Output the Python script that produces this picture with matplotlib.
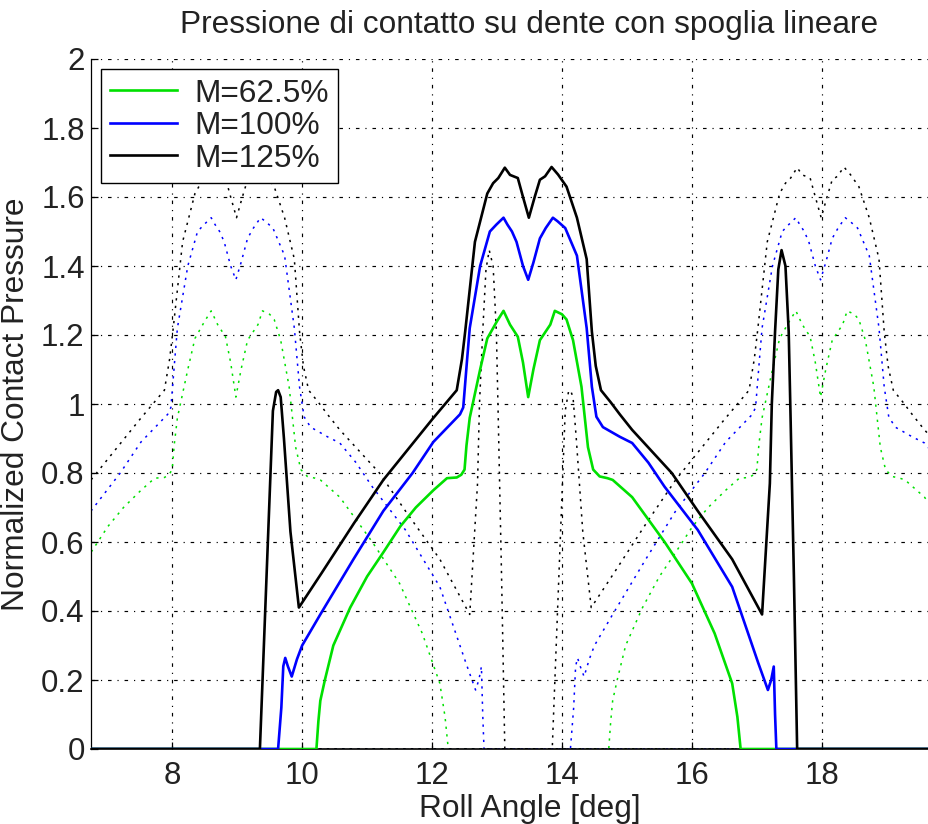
import matplotlib.pyplot as plt

plt.rcParams['font.family'] = ['Liberation Sans', 'DejaVu Sans']

# Roll angle [deg] / normalized contact pressure on the reference tooth
roll_625 = [2.0, 10.22, 10.25, 10.28, 10.35, 10.48, 10.74, 11.0, 11.25, 11.51, 11.75,
            12.02, 12.23, 12.38, 12.45, 12.5, 12.53, 12.58, 12.74, 12.85, 13.0, 13.1,
            13.2, 13.32, 13.4, 13.48, 13.56, 13.66, 13.82, 13.89, 14.0, 14.07, 14.17,
            14.3, 14.4, 14.48, 14.58, 14.7, 14.78, 15.08, 15.58, 16.0, 16.35, 16.62,
            16.7, 16.75, 25.0]
p_625 = [0.0, 0.0, 0.08, 0.14, 0.2, 0.3, 0.41, 0.5, 0.57, 0.645, 0.7,
         0.75, 0.785, 0.787, 0.795, 0.81, 0.88, 0.96, 1.1, 1.19, 1.24, 1.27,
         1.23, 1.195, 1.12, 1.02, 1.1, 1.185, 1.23, 1.27, 1.26, 1.245, 1.185,
         1.05, 0.875, 0.81, 0.79, 0.785, 0.78, 0.73, 0.6, 0.48, 0.335, 0.19,
         0.093, 0.0, 0.0]

roll_100 = [2.0, 9.63, 9.68, 9.71, 9.74, 9.78, 9.84, 9.92, 10.0, 10.28, 10.79, 11.25,
            11.7, 12.02, 12.43, 12.48, 12.54, 12.58, 12.74, 12.89, 12.99, 13.1, 13.16,
            13.23, 13.3, 13.4, 13.48, 13.56, 13.66, 13.75, 13.86, 13.93, 14.05, 14.23,
            14.38, 14.46, 14.53, 14.63, 14.89, 15.08, 15.33, 15.58, 16.09, 16.62, 17.02,
            17.17, 17.22, 17.26, 17.28, 17.3, 25.0]
p_100 = [0.0, 0.0, 0.12, 0.24, 0.264, 0.24, 0.21, 0.26, 0.3, 0.39, 0.55, 0.69,
         0.8, 0.89, 0.97, 0.99, 1.13, 1.22, 1.4, 1.5, 1.52, 1.54, 1.52,
         1.5, 1.47, 1.4, 1.36, 1.41, 1.48, 1.51, 1.54, 1.53, 1.51, 1.43,
         1.22, 1.05, 0.963, 0.933, 0.905, 0.887, 0.83, 0.76, 0.635, 0.47, 0.25,
         0.171, 0.2, 0.239, 0.1, 0.0, 0.0]

roll_125 = [2.0, 9.35, 9.55, 9.6, 9.63, 9.67, 9.72, 9.82, 9.95, 10.3, 10.8, 11.25,
            11.7, 12.0, 12.38, 12.46, 12.51, 12.66, 12.85, 12.94, 13.02, 13.12, 13.2,
            13.32, 13.4, 13.49, 13.58, 13.66, 13.74, 13.84, 13.94, 14.07, 14.23, 14.38,
            14.46, 14.52, 14.6, 14.75, 14.89, 15.08, 15.69, 16.09, 16.62, 17.08, 17.2,
            17.23, 17.28, 17.33, 17.38, 17.44, 17.49, 17.52, 17.57, 17.62, 25.0]
p_125 = [0.0, 0.0, 0.98, 1.035, 1.04, 1.02, 0.9, 0.63, 0.41, 0.51, 0.655, 0.78,
         0.885, 0.955, 1.04, 1.13, 1.21, 1.47, 1.61, 1.64, 1.655, 1.685, 1.664,
         1.655, 1.6, 1.54, 1.6, 1.65, 1.66, 1.687, 1.665, 1.63, 1.54, 1.42,
         1.21, 1.11, 1.04, 1.005, 0.97, 0.925, 0.8, 0.69, 0.55, 0.39, 0.77,
         1.0, 1.21, 1.39, 1.446, 1.4, 1.21, 0.95, 0.5, 0.0, 0.0]

labels = ["M=62.5%", "M=100%", "M=125%"]
colors = ["#00e000", "#0000ff", "#000000"]
tooth_pitch = 4.5  # previous / next tooth: same curve shifted by one pitch

x_ticks = [8, 10, 12, 14, 16, 18]
y_ticks = [0, 0.2, 0.4, 0.6, 0.8, 1, 1.2, 1.4, 1.6, 1.8, 2]
y_tick_labels = ["0", "0.2", "0.4", "0.6", "0.8", "1", "1.2", "1.4", "1.6", "1.8", "2"]

fig = plt.figure(figsize=(9.29, 8.24), dpi=100)
ax = fig.add_axes([91 / 929, 75 / 824, 877 / 929, 690 / 824])

curves = [(roll_625, p_625), (roll_100, p_100), (roll_125, p_125)]

# adjacent teeth, dotted
for (rx, py), c in zip(curves, colors):
    for shift in (-tooth_pitch, tooth_pitch):
        ax.plot([r + shift for r in rx], py, color=c, lw=1.1,
                linestyle=(0, (1.5, 3.5)), zorder=2)

# reference tooth, solid
for (rx, py), c, lab in zip(curves, colors, labels):
    ax.plot(rx, py, color=c, lw=1.9, label=lab, zorder=3)

ax.set_xlim(6.75, 20.25)
ax.set_ylim(0, 2)
ax.set_xticks(x_ticks)
ax.set_yticks(y_ticks)
ax.set_yticklabels(y_tick_labels)

ax.grid(True, color='black', linestyle=(0, (3, 5, 1, 5)), linewidth=0.85)
ax.set_axisbelow(True)
ax.spines['top'].set_visible(False)
ax.spines['right'].set_visible(False)
ax.spines['left'].set_linewidth(0.9)
ax.spines['bottom'].set_linewidth(1.2)
ax.tick_params(axis='both', direction='in', length=5, width=0.9,
               labelsize=22.5, labelcolor='#222222')
ax.tick_params(axis='x', pad=8.5)
ax.tick_params(axis='y', pad=4.5)

ax.set_title("Pressione di contatto su dente con spoglia lineare",
             fontsize=22.8, color='#222222', pad=18.5)
ax.set_xlabel("Roll Angle [deg]", fontsize=22.8, color='#222222')
ax.xaxis.label.set_verticalalignment('baseline')
ax.xaxis.set_label_coords(0.5, (749 - 817) / 690)
ax.set_ylabel("Normalized Contact Pressure", fontsize=22.8, color='#222222')
ax.yaxis.label.set_verticalalignment('center')
ax.yaxis.set_label_coords((16 - 91) / 877, 0.5)

leg = ax.legend(loc='upper left', bbox_to_anchor=((101 - 91) / 877, (749 - 69) / 690),
                borderaxespad=0, fontsize=22.8, handlelength=2.1, handletextpad=0.55,
                labelspacing=0.08, borderpad=0.3, fancybox=False,
                edgecolor='black', framealpha=1)
leg.get_frame().set_linewidth(1.0)
for t in leg.get_texts():
    t.set_color('#222222')

fig.savefig("out.png", dpi=100)
